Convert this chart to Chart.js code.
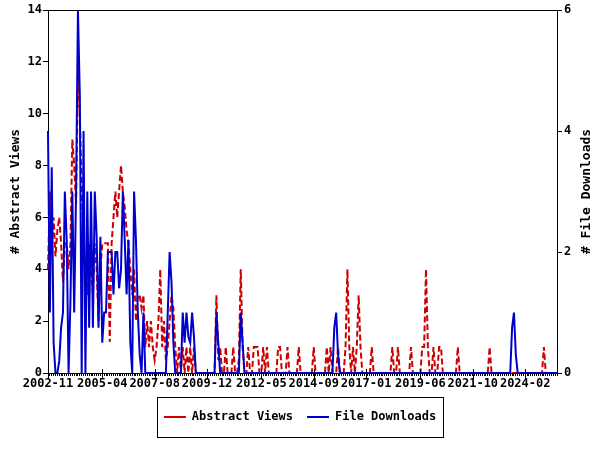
<!DOCTYPE html>
<html><head><meta charset="utf-8">
<script src="https://cdn.jsdelivr.net/npm/chart.js@4.4.1/dist/chart.umd.min.js"></script>
<style>html,body{margin:0;padding:0;background:#fff}#wrap{width:600px;height:450px;position:relative}</style>
</head><body><div id="wrap"><canvas id="c"></canvas></div>
<script>
// ---- data ----
const startYear = 2002, startMonth = 11, monthCount = 273;
const months = [];
for (let i = 0; i < monthCount; i++) {
  const m = startMonth - 1 + i;
  const y = startYear + Math.floor(m / 12);
  const mm = (m % 12) + 1;
  months.push(y + '-' + (mm < 10 ? '0' + mm : '' + mm));
}
const tickLabels = ['2002-11','2005-04','2007-08','2009-12','2012-05','2014-09','2017-01','2019-06','2021-10','2024-02'];
const leftTicks = [0,2,4,6,8,10,12,14];
const rightTicks = [0,2,4,6];

const abstractViews = [
 4,7,5,6,4.5,5.5,6,5,3.5,5,
 5,4,5,9,8,6.5,11.5,10,7,5,
 4,3,5,4,3,5,4,2,4,5,
 5,5,5,1.2,5,6,7,6,7,8,
 7,6.4,5.5,5,4,3,4,2,3,3,
 2.5,3,1,2,1,2,1,0.5,1,2,
 4,1,2,0.5,1,2,3,2.5,1,0,
 1,0,1,0,1,0,1,0,1,0,
 0,0,0,0,0,0,0,0,0,0,
 3,0.5,1,0,0,1,0,0,0,1,
 0,0,0.5,4,1,0,0,1,0,0,
 1,1,1,0,0,1,0,1,0,0,
 0,0,0,1,1,0,0,0,1,0,
 0,0,0,0,1,0,0,0,0,0,
 0,0,1,0,0,0,0,0,0,1,
 0,1,0,0,0,1,0,0,0,1,
 4,1,0,1,0,1,3,1,0,0,
 0,0,0,1,0,0,0,0,0,0,
 0,0,0,0,1,0,0,1,0,0,
 0,0,0,0,1,0,0,0,0,0,
 1,1,4,1,0,0,1,0,0,1,
 1,0,0,0,0,0,0,0,0,1,
 0,0,0,0,0,0,0,0,0,0,
 0,0,0,0,0,0,1,0,0,0,
 0,0,0,0,0,0,0,0,0,0,
 0,0,0,0,0,0,0,0,0,0,
 0,0,0,0,0,1,0,0,0,0,
 0,0,0
];
const fileDownloads = [
 4,1,3.4,0.5,0,0,0.2,0.75,1,3,
 2.2,0,1.2,3,1,3,6,4.6,0,4,
 0,3,0.75,3,0.75,3,2.25,0.75,2.25,0.5,
 1,1,2,2,2,1.3,2,2,1.4,1.7,
 3,2.2,1.3,2.2,0.5,0,3,2.2,1,0.3,
 0,1,0,0,0,0,0,0,0,0,
 0,0,0,0,1,2,1.5,0.5,0,0,
 0,0,1,0.5,1,0.6,0.5,1,0.6,0,
 0,0,0,0,0,0,0,0,0,0,
 1,0.5,0,0,0,0,0,0,0,0,
 0,0,0,1,0.5,0,0,0,0,0,
 0,0,0,0,0,0,0,0,0,0,
 0,0,0,0,0,0,0,0,0,0,
 0,0,0,0,0,0,0,0,0,0,
 0,0,0,0,0,0,0,0,0,0,
 0,0,0,0.75,1,0.3,0,0,0,0,
 0,0,0,0,0,0,0,0,0,0,
 0,0,0,0,0,0,0,0,0,0,
 0,0,0,0,0,0,0,0,0,0,
 0,0,0,0,0,0,0,0,0,0,
 0,0,0,0,0,0,0,0,0,0,
 0,0,0,0,0,0,0,0,0,0,
 0,0,0,0,0,0,0,0,0,0,
 0,0,0,0,0,0,0,0,0,0,
 0,0,0,0,0,0,0,0,0.75,1,
 0.3,0,0,0,0,0,0,0,0,0,
 0,0,0,0,0,0,0,0,0,0,
 0,0,0
];

// ---- chart ----
const FONT = "'DejaVu Sans Mono', 'Liberation Mono', monospace";
const tickFont = {family: FONT, size: 12, weight: 'bold'};

const framePlugin = {
  id: 'frame',
  afterDraw(chart) {
    const {ctx, chartArea: a, scales} = chart;
    ctx.save();
    ctx.strokeStyle = '#000';
    ctx.lineWidth = 1;
    ctx.beginPath();
    ctx.moveTo(a.left, a.top + 0.5);
    ctx.lineTo(a.right, a.top + 0.5);
    ctx.stroke();
    // longer ticks at labelled months
    const xs = scales.x;
    tickLabels.forEach(l => {
      const i = months.indexOf(l);
      if (i < 0) return;
      const px = Math.round(xs.getPixelForValue(i)) + 0.5;
      ctx.beginPath();
      ctx.moveTo(px, a.bottom - 4);
      ctx.lineTo(px, a.bottom + 6);
      ctx.stroke();
    });
    // right axis title
    ctx.fillStyle = '#000';
    ctx.font = "bold 13px " + FONT;
    ctx.textAlign = 'center';
    ctx.textBaseline = 'middle';
    ctx.translate(587, (a.top + a.bottom) / 2);
    ctx.rotate(-Math.PI / 2);
    ctx.fillText('# File Downloads', 0, 0);
    ctx.restore();
    // legend border
    const lg = chart.legend;
    if (lg && lg.legendHitBoxes && lg.legendHitBoxes.length) {
      const hb = lg.legendHitBoxes;
      let l = Infinity, r = -Infinity, cy = 0;
      hb.forEach(h => { l = Math.min(l, h.left); r = Math.max(r, h.left + h.width); cy = h.top + h.height / 2; });
      ctx.save();
      ctx.strokeStyle = '#000';
      ctx.lineWidth = 1;
      ctx.strokeRect(Math.round(l - 7) + 0.5, Math.round(cy - 20) + 0.5, Math.round(r - l + 14), 40);
      ctx.restore();
    }
  }
};

new Chart(document.getElementById('c'), {
  type: 'line',
  data: {
    labels: months,
    datasets: [
      {label: 'Abstract Views', data: abstractViews, yAxisID: 'y', borderColor: '#cc0000', backgroundColor: '#cc0000',
       borderWidth: 2, borderDash: [6, 3], pointRadius: 0, tension: 0, fill: false, order: 1},
      {label: 'File Downloads', data: fileDownloads, yAxisID: 'y1', borderColor: '#0000cc', backgroundColor: '#0000cc',
       borderWidth: 2, pointRadius: 0, tension: 0, fill: false, order: 0}
    ]
  },
  options: {
    responsive: true,
    maintainAspectRatio: false,
    animation: false,
    events: [],
    layout: {padding: {top: 10, bottom: 17, left: 0, right: 0}},
    plugins: {
      tooltip: {enabled: false},
      legend: {
        position: 'bottom',
        labels: {
          usePointStyle: true, pointStyle: 'line', pointStyleWidth: 22,
          font: tickFont, color: '#000', padding: 14,
          sort: (a, b) => a.datasetIndex - b.datasetIndex
        }
      }
    },
    scales: {
      x: {
        type: 'category', offset: false,
        border: {color: '#000', width: 1},
        grid: {drawOnChartArea: false, drawTicks: true, tickLength: 3, color: '#000'},
        ticks: {
          autoSkip: false, maxRotation: 0, minRotation: 0, padding: 1, color: '#000', font: tickFont,
          callback: (v, i) => tickLabels.includes(months[i]) ? months[i] : ''
        },
        afterFit: s => { s.height = 24; }
      },
      y: {
        position: 'left', min: 0, max: 14,
        afterBuildTicks: s => { s.ticks = leftTicks.map(v => ({value: v})); },
        border: {color: '#000', width: 1},
        grid: {drawOnChartArea: false, tickLength: 5, color: '#000'},
        ticks: {color: '#000', font: tickFont, padding: 1},
        title: {display: true, text: '# Abstract Views', color: '#000', font: {family: FONT, size: 13, weight: 'bold'}, padding: {top: 8, bottom: 2}},
        afterFit: s => { s.width = 48; }
      },
      y1: {
        position: 'right', min: 0, max: 6,
        afterBuildTicks: s => { s.ticks = rightTicks.map(v => ({value: v})); },
        border: {color: '#000', width: 1},
        grid: {drawOnChartArea: false, tickLength: 5, color: '#000'},
        ticks: {color: '#000', font: tickFont, padding: 2},
        afterFit: s => { s.width = 43; }
      }
    }
  },
  plugins: [framePlugin]
});
</script>
</body></html>
